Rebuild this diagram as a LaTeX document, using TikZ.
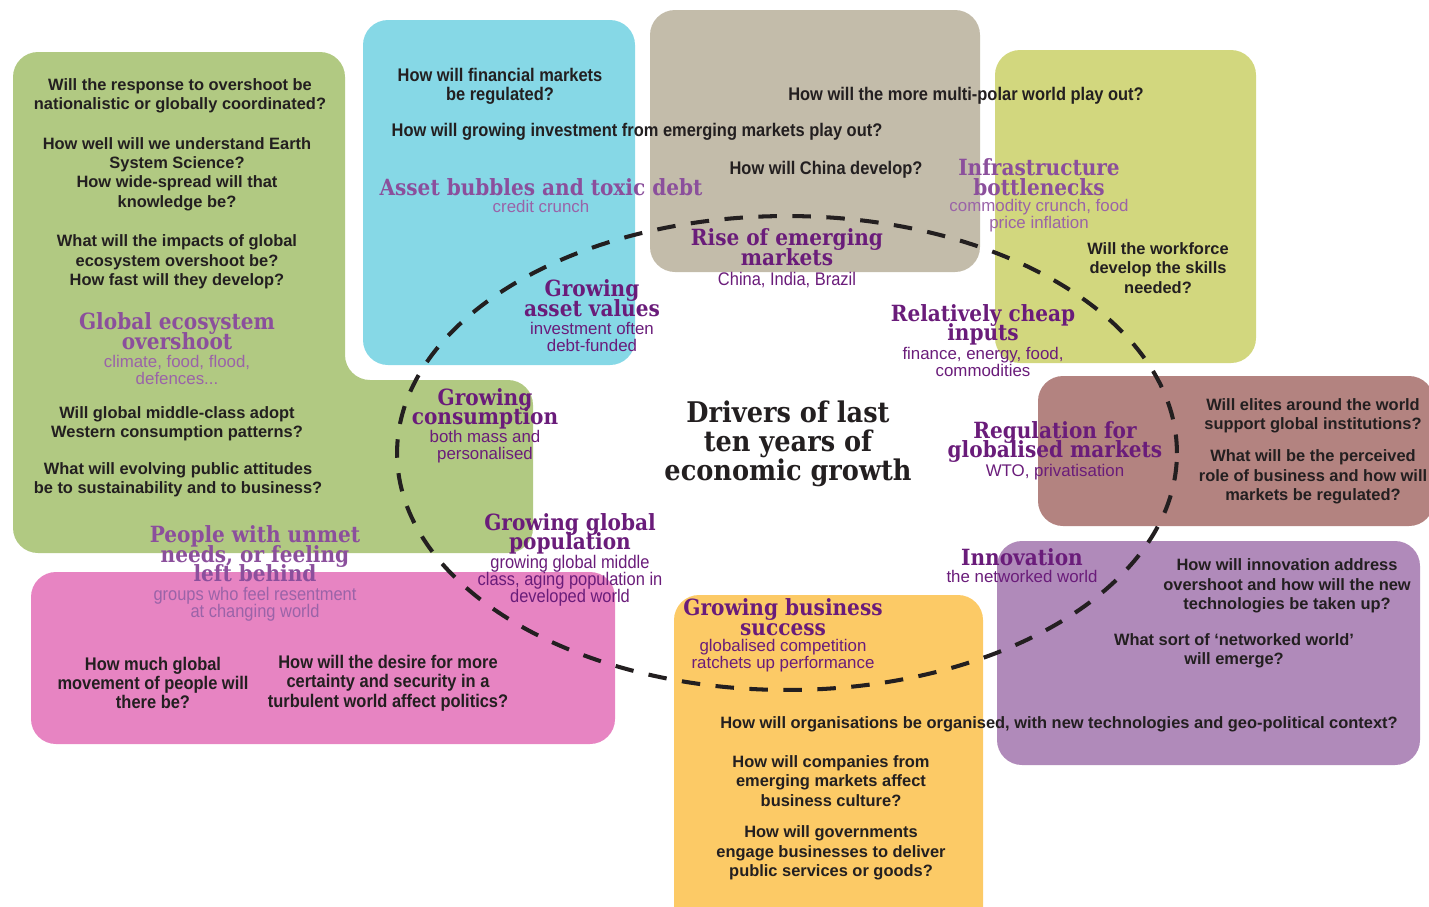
\documentclass[tikz,border=0pt]{standalone}
\usepackage{fontspec}
\setmainfont{Liberation Sans}
\newfontfamily\narrowsf[FakeStretch=0.9]{Liberation Sans}
\newfontfamily\slab[FakeStretch=0.9]{DejaVu Serif}
\newcommand\tightlines{\lineskiplimit=-100pt\lineskip=0pt}
\definecolor{qcol}{HTML}{231F20}
\definecolor{dpurple}{HTML}{6A1C7A}
\definecolor{lpurple}{HTML}{8B4F9C}
\definecolor{slpurple}{HTML}{9A63A8}
\definecolor{cgreen}{HTML}{B1C982}
\definecolor{ccyan}{HTML}{86D8E6}
\definecolor{ctaupe}{HTML}{C3BCAA}
\definecolor{cyg}{HTML}{D2D77E}
\definecolor{crose}{HTML}{B38380}
\definecolor{clilac}{HTML}{B08ABA}
\definecolor{cpink}{HTML}{E784C2}
\definecolor{cyellow}{HTML}{FCCA66}
\tikzset{
  panel/.style={rounded corners=0.5cm, draw=none},
  q/.style={align=center, inner sep=0pt, text=qcol, font=\fontsize{9.35}{11.0}\selectfont\bfseries\tightlines},
  qn/.style={align=center, inner sep=0pt, text=qcol, font=\fontsize{10.4}{11.0}\selectfont\narrowsf\bfseries\tightlines},
  hd/.style={align=center, inner sep=0pt, text=dpurple, font=\fontsize{12.7}{11.1}\selectfont\slab\bfseries\tightlines},
  hl/.style={hd, text=lpurple},
  sd/.style={align=center, inner sep=0pt, text=dpurple, font=\fontsize{9.6}{9.7}\selectfont\tightlines},
  sdn/.style={sd, font=\fontsize{10.4}{9.7}\selectfont\narrowsf\tightlines},
  sl/.style={sd, text=slpurple},
  sln/.style={sdn, text=slpurple},
  titlefont/.style={align=center, inner sep=0pt, text=qcol, font=\fontsize{16.2}{16.5}\selectfont\slab\bfseries\tightlines},
  ring/.style={draw=qcol, line width=2.3pt, dash pattern=on 0.37cm off 0.31cm}
}
\begin{document}
\begin{tikzpicture}[x=0.02cm, y=-0.02cm]
\useasboundingbox (0,0) rectangle (1429,906);
\clip (0,0) rectangle (1429,906);
% panels
\fill[cgreen, panel] (13,52) -- (345,52) -- (345,380) -- (533,380) -- (533,553) -- (13,553) -- cycle;
\fill[ccyan, panel] (363,20) rectangle (635,365);
\fill[ctaupe, panel] (650,10) rectangle (980,272);
\fill[cyg, panel] (995,50) rectangle (1256,363);
\fill[crose, panel] (1038,376) rectangle (1434,526);
\fill[clilac, panel] (997,541) rectangle (1420,765);
\fill[cpink, panel] (31,572) rectangle (615,744);
\fill[cyellow, panel] (674,595) rectangle (983,940);
% dashed ring
\draw[ring] (787,453) ellipse [x radius=7.8cm, y radius=4.74cm];
% title
\node[titlefont] (title) at (788,444) {Drivers of last\\ten years of\\economic growth};
% green panel
\node[q] (g1) at (180,96) {Will the response to overshoot be\\nationalistic or globally coordinated?};
\node[q] (g2) at (177,174) {How well will we understand Earth\\System Science?\\How wide-spread will that\\knowledge be?};
\node[q] (g3) at (177,262) {What will the impacts of global\\ecosystem overshoot be?\\How fast will they develop?};
\node[hl] (g4h) at (177,331) {Global ecosystem\\overshoot};
\node[sl] (g4s) at (177,370) {climate, food, flood,\\defences...};
\node[q] (g5) at (177,424) {Will global middle-class adopt\\Western consumption patterns?};
\node[q] (g6) at (178,480) {What will evolving public attitudes\\be to sustainability and to business?};
\node[hl] (p1h) at (255,554) {People with unmet\\needs, or feeling\\left behind};
\node[sln] (p1s) at (255,604) {groups who feel resentment\\at changing world};
% cyan panel
\node[qn] (c1) at (500,86) {How will financial markets\\be regulated?};
\node[qn] (c2) at (637,132) {How will growing investment from emerging markets play out?};
\node[hl] (c3h) at (541,187) {Asset bubbles and toxic debt};
\node[sl] (c3s) at (541,206) {credit crunch};
\node[hd] (c4h) at (592,298) {Growing\\asset values};
\node[sd] (c4s) at (592,337) {investment often\\debt-funded};
% taupe panel
\node[qn] (t1) at (966,96) {How will the more multi-polar world play out?};
\node[qn] (t2) at (826,170) {How will China develop?};
\node[hd] (t3h) at (787,247) {Rise of emerging\\markets};
\node[sdn] (t3s) at (787,280) {China, India, Brazil};
% yellow-green panel
\node[hl] (y1h) at (1039,177) {Infrastructure\\bottlenecks};
\node[sl] (y1s) at (1039,216) {commodity crunch, food\\price inflation};
\node[q] (y2) at (1158,268) {Will the workforce\\develop the skills\\needed?};
\node[hd] (y3h) at (983,325) {Relatively cheap\\inputs};
\node[sd] (y3s) at (983,362) {finance, energy, food,\\commodities};
% rose panel
\node[hd] (r1h) at (1055,442) {Regulation for\\globalised markets};
\node[sd] (r1s) at (1055,472) {WTO, privatisation};
\node[q] (r2) at (1313,416) {Will elites around the world\\support global institutions?};
\node[q] (r3) at (1313,477) {What will be the perceived\\role of business and how will\\markets be regulated?};
% lilac panel
\node[hd] (v1h) at (1022,557) {Innovation};
\node[sd] (v1s) at (1022,576) {the networked world};
\node[q] (v2) at (1287,586) {How will innovation address\\overshoot and how will the new\\technologies be taken up?};
\node[q] (v3) at (1234,651) {What sort of `networked world'\\will emerge?};
\node[q] (v4) at (1059,724) {How will organisations be organised, with new technologies and geo-political context?};
% yellow panel
\node[hd] (o1h) at (783,617) {Growing business\\success};
\node[sd] (o1s) at (783,656) {globalised competition\\ratchets up performance};
\node[q] (o2) at (831,781) {How will companies from\\emerging markets affect\\business culture?};
\node[q] (o3) at (831,853) {How will governments\\engage businesses to deliver\\public services or goods?};
% pink panel
\node[qn] (k1) at (153,683) {How much global\\movement of people will\\there be?};
\node[qn] (k2) at (388,683) {How will the desire for more\\certainty and security in a\\turbulent world affect politics?};
% ring drivers
\node[hd] (gch) at (485,409) {Growing\\consumption};
\node[sd] (gcs) at (485,447) {both mass and\\personalised};
\node[hd] (gph) at (570,534) {Growing global\\population};
\node[sdn] (gps) at (570,581) {growing global middle\\class, aging population in\\developed world};
\end{tikzpicture}
\end{document}
